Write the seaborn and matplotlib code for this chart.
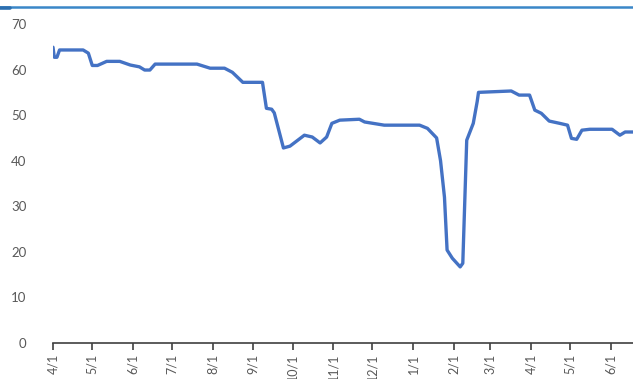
import matplotlib
matplotlib.use("Agg")
import matplotlib.pyplot as plt
import matplotlib.lines as mlines
import seaborn as sns
import pandas as pd

# ---- data ----
dates = [
    "2020-04-01", "2020-04-02", "2020-04-04", "2020-04-06", "2020-04-24", "2020-04-28",
    "2020-05-01", "2020-05-05", "2020-05-12", "2020-05-22", "2020-05-30", "2020-06-06",
    "2020-06-10", "2020-06-14", "2020-06-18", "2020-07-20", "2020-07-30", "2020-08-10",
    "2020-08-16", "2020-08-24", "2020-09-08", "2020-09-11", "2020-09-15", "2020-09-17",
    "2020-09-24", "2020-09-29", "2020-10-10", "2020-10-16", "2020-10-22", "2020-10-27",
    "2020-10-31", "2020-11-06", "2020-11-21", "2020-11-25", "2020-12-10", "2021-01-06",
    "2021-01-12", "2021-01-19", "2021-01-22", "2021-01-25", "2021-01-27", "2021-01-31",
    "2021-02-06", "2021-02-08", "2021-02-11", "2021-02-16", "2021-02-19", "2021-02-20",
    "2021-03-17", "2021-03-23", "2021-03-31", "2021-04-04", "2021-04-09", "2021-04-15",
    "2021-04-23", "2021-04-29", "2021-05-02", "2021-05-06", "2021-05-10", "2021-05-16",
    "2021-06-02", "2021-06-08", "2021-06-12", "2021-06-18",
]
values = [
    64.9, 62.7, 62.7, 64.3, 64.3, 63.6,
    60.9, 60.9, 61.8, 61.8, 61.0, 60.6,
    59.9, 59.9, 61.2, 61.2, 60.3, 60.3,
    59.4, 57.2, 57.2, 51.5, 51.3, 50.5,
    42.8, 43.2, 45.6, 45.2, 43.9, 45.2,
    48.2, 48.9, 49.1, 48.5, 47.8, 47.8,
    47.1, 45.0, 40.0, 32.0, 20.4, 18.6,
    16.7, 17.5, 44.5, 48.2, 53.0, 55.0,
    55.3, 54.4, 54.4, 51.1, 50.4, 48.7,
    48.2, 47.8, 44.9, 44.7, 46.7, 46.9,
    46.9, 45.6, 46.3, 46.3,
]
tick_dates = pd.date_range("2020-04-01", "2021-06-01", freq="MS")
tick_labels = [f"{d.month}/1" for d in tick_dates]
y_ticks = [0, 10, 20, 30, 40, 50, 60, 70]

df = pd.DataFrame({"date": pd.to_datetime(dates), "value": values})

sns.set_theme(style="white")
plt.rcParams["font.family"] = ["Lato", "DejaVu Sans"]

W, H = 633, 379
fig = plt.figure(figsize=(W / 100, H / 100), dpi=100)
ax = fig.add_axes([53 / W, (H - 343) / H, (633 - 53) / W, (343 - 24) / H])

sns.lineplot(data=df, x="date", y="value", ax=ax, color="#4472C4", linewidth=2.4)

ax.set_xlim(pd.Timestamp("2020-04-01"), pd.Timestamp("2021-06-18"))
ax.set_ylim(0, 70)
ax.set_xticks(tick_dates)
ax.set_xticklabels(tick_labels, rotation=90, color="#595959", fontsize=9)
ax.set_yticks(y_ticks)
ax.set_yticklabels([str(v) for v in y_ticks], color="#595959", fontsize=9.5)
ax.set_xlabel("")
ax.set_ylabel("")

for s in ["top", "right", "left"]:
    ax.spines[s].set_visible(False)
ax.spines["bottom"].set_color("#404040")
ax.spines["bottom"].set_linewidth(1.2)
ax.tick_params(axis="x", which="both", bottom=True, length=5, width=1.2,
               color="#404040", pad=3)
ax.tick_params(axis="y", left=False, pad=13)
ax.grid(False)

# header rule at the top of the picture
fig.add_artist(mlines.Line2D([0, 1], [1 - 7 / H, 1 - 7 / H], color="#3a87c8",
                             linewidth=1.8, transform=fig.transFigure))
fig.add_artist(mlines.Line2D([0, 10 / W], [1 - 8 / H, 1 - 8 / H], color="#2c6fb0",
                             linewidth=2.6, transform=fig.transFigure))

fig.savefig("out.png", dpi=100)
